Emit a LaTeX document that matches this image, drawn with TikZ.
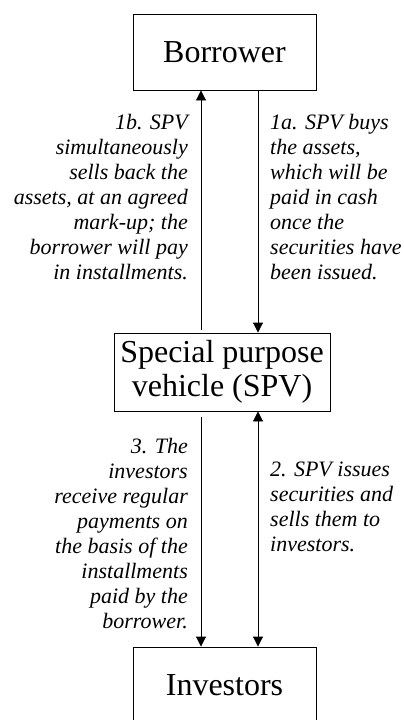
\documentclass[tikz,border=0pt]{standalone}
\usepackage{fontspec}
\setmainfont{Liberation Serif}
\usetikzlibrary{arrows.meta}
\begin{document}
\begin{tikzpicture}[x=1pt,y=-1pt,
  >={Triangle[width=10pt,length=10pt]},
  box/.style={draw, line width=0.9pt, minimum width=183pt, minimum height=76pt,
    inner sep=0pt, font=\fontsize{32}{34}\selectfont, align=center},
  lbl/.style={inner sep=0pt, font=\fontsize{22}{25}\selectfont\itshape},
  arr/.style={line width=0.9pt, ->}]
\clip (0,0) rectangle (404,720);
\node[box] (bor) at (224.5,52) {Borrower};
\node[box, minimum width=216pt, minimum height=78pt] (spv) at (222,372) {Special purpose\\vehicle (SPV)};
\node[box] (inv) at (224.5,685) {Investors};
\coordinate (lx) at (201,0);
\coordinate (rx) at (258,0);
\draw[arr] ([yshift=3pt]spv.north -| lx) -- (bor.south -| lx);
\draw[arr] (bor.south -| rx) -- (spv.north -| rx);
\draw[arr] ([yshift=-6pt]spv.south -| lx) -- (inv.north -| lx);
\draw[arr, <->] (spv.south -| rx) -- (inv.north -| rx);
\node[lbl, anchor=north east, align=right] (l1b) at (188,114) {1b. SPV\\simultaneously\\sells back the\\assets, at an agreed\\mark-up; the\\borrower will pay\\in installments.};
\node[lbl, anchor=north west, align=left] (l1a) at (270,114) {1a. SPV buys\\the assets,\\which will be\\paid in cash\\once the\\securities have\\been issued.};
\node[lbl, anchor=north east, align=right] (l3) at (188,438) {3. The\\investors\\receive regular\\payments on\\the basis of the\\installments\\paid by the\\borrower.};
\node[lbl, anchor=north west, align=left] (l2) at (270,462) {2. SPV issues\\securities and\\sells them to\\investors.};
\end{tikzpicture}
\end{document}
